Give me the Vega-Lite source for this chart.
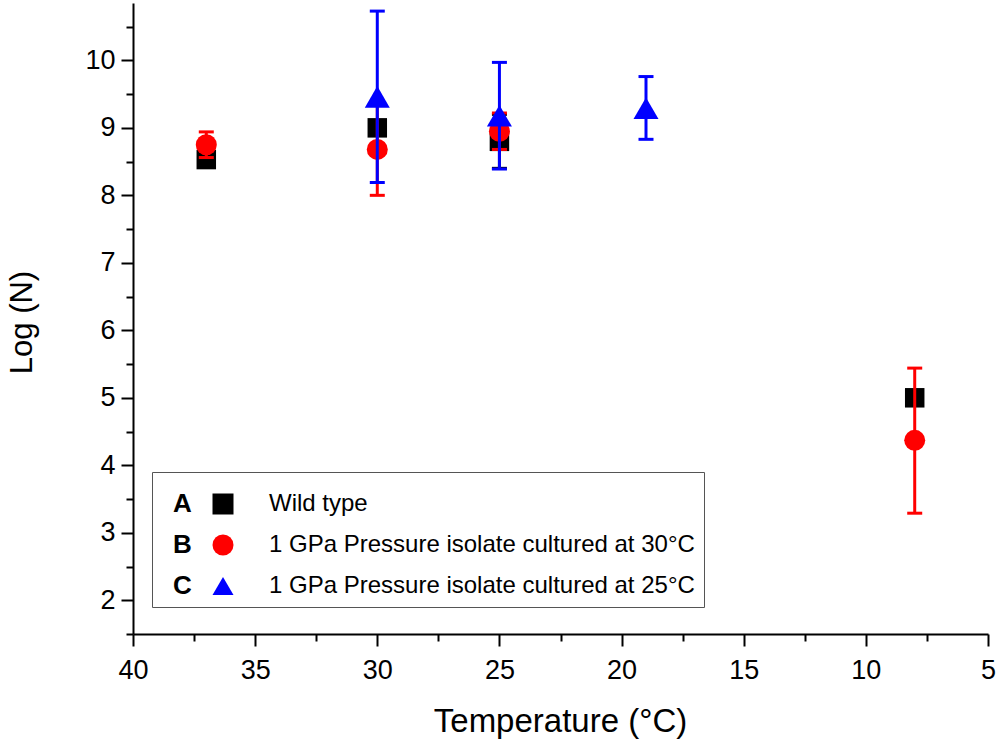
{
  "$schema": "https://vega.github.io/schema/vega-lite/v6.json",
  "width": 855,
  "height": 631,
  "autosize": {"type": "none"},
  "padding": {"left": 133, "top": 3, "right": 12, "bottom": 115},
  "background": "white",
  "config": {
    "view": {"stroke": null},
    "font": "Liberation Sans",
    "axis": {
      "domainColor": "black",
      "domainWidth": 2,
      "tickColor": "black",
      "tickWidth": 2,
      "labelColor": "black",
      "labelFont": "Liberation Sans",
      "labelFontSize": 27,
      "titleFont": "Liberation Sans",
      "titleFontWeight": "normal",
      "titleColor": "black",
      "grid": false
    }
  },
  "data": {
    "values": [
      {"series": "Wild type", "letter": "A", "temp": 37, "logn": 8.53},
      {"series": "Wild type", "letter": "A", "temp": 30, "logn": 9.0},
      {"series": "Wild type", "letter": "A", "temp": 25, "logn": 8.8, "lo": 8.4, "hi": 9.2},
      {"series": "Wild type", "letter": "A", "temp": 8, "logn": 5.0},
      {"series": "1 GPa Pressure isolate cultured at 30°C", "letter": "B", "temp": 37, "logn": 8.75, "lo": 8.56, "hi": 8.94},
      {"series": "1 GPa Pressure isolate cultured at 30°C", "letter": "B", "temp": 30, "logn": 8.68, "lo": 8.0, "hi": 9.37},
      {"series": "1 GPa Pressure isolate cultured at 30°C", "letter": "B", "temp": 25, "logn": 8.95, "lo": 8.68, "hi": 9.22},
      {"series": "1 GPa Pressure isolate cultured at 30°C", "letter": "B", "temp": 8, "logn": 4.37, "lo": 3.29, "hi": 5.44},
      {"series": "1 GPa Pressure isolate cultured at 25°C", "letter": "C", "temp": 30, "logn": 9.46, "lo": 8.19, "hi": 10.73},
      {"series": "1 GPa Pressure isolate cultured at 25°C", "letter": "C", "temp": 25, "logn": 9.18, "lo": 8.39, "hi": 9.97},
      {"series": "1 GPa Pressure isolate cultured at 25°C", "letter": "C", "temp": 19, "logn": 9.29, "lo": 8.83, "hi": 9.76}
    ]
  },
  "encoding": {
    "x": {
      "field": "temp",
      "type": "quantitative",
      "scale": {"domain": [5, 40], "reverse": true, "nice": false, "zero": false},
      "axis": {
        "title": "Temperature (°C)",
        "titleFontSize": 33,
        "values": [5, 7.5, 10, 12.5, 15, 17.5, 20, 22.5, 25, 27.5, 30, 32.5, 35, 37.5, 40],
        "labelExpr": "datum.value % 5 === 0 ? format(datum.value, 'd') : ''",
        "tickSize": {"condition": {"test": "datum.value % 5 === 0", "value": 12}, "value": 7},
        "labelPadding": 11,
        "labelFlush": false,
        "labelOverlap": false,
        "titleX": 427,
        "titleY": 97,
        "titleBaseline": "alphabetic",
        "titleAnchor": "middle"
      }
    },
    "y": {
      "field": "logn",
      "type": "quantitative",
      "scale": {"domain": [1.5, 10.85], "nice": false, "zero": false},
      "axis": {
        "title": "Log (N)",
        "titleFontSize": 31,
        "values": [1.5, 2, 2.5, 3, 3.5, 4, 4.5, 5, 5.5, 6, 6.5, 7, 7.5, 8, 8.5, 9, 9.5, 10, 10.5],
        "labelExpr": "datum.value % 1 === 0 ? format(datum.value, 'd') : ''",
        "tickSize": {"condition": {"test": "datum.value % 1 === 0", "value": 12}, "value": 7},
        "labelPadding": 6,
        "labelFlush": false,
        "labelOverlap": false,
        "titleAngle": -90,
        "titleX": -111,
        "titleY": 319,
        "titleBaseline": "middle",
        "titleAlign": "center"
      }
    }
  },
  "layer": [
    {
      "mark": {"type": "point", "opacity": 0},
      "encoding": {
        "strokeDash": {
          "field": "letter",
          "type": "nominal",
          "scale": {"domain": ["A", "B", "C"]},
          "legend": {
            "title": null,
            "orient": "none",
            "legendX": 14,
            "legendY": 488,
            "padding": 0,
            "symbolSize": 0,
            "symbolOpacity": 0,
            "symbolStrokeWidth": 0,
            "labelOffset": 0,
            "labelFontSize": 26,
            "labelFontWeight": "bold",
            "labelColor": "black",
            "labelFont": "Liberation Sans",
            "rowPadding": 15
          }
        }
      }
    },
    {
      "transform": [{"filter": "datum.letter === 'A'"}],
      "layer": [
        {
          "transform": [{"filter": "isValid(datum.lo)"}],
          "mark": {"type": "rule", "strokeWidth": 3, "color": "black"},
          "encoding": {"y": {"field": "lo", "type": "quantitative"}, "y2": {"field": "hi"}}
        },
        {
          "transform": [{"filter": "isValid(datum.lo)"}],
          "mark": {"type": "tick", "orient": "horizontal", "size": 15, "thickness": 3, "color": "black", "opacity": 1},
          "encoding": {"y": {"field": "lo", "type": "quantitative"}}
        },
        {
          "transform": [{"filter": "isValid(datum.lo)"}],
          "mark": {"type": "tick", "orient": "horizontal", "size": 15, "thickness": 3, "color": "black", "opacity": 1},
          "encoding": {"y": {"field": "hi", "type": "quantitative"}}
        },
        {
          "mark": {"type": "point", "filled": true, "opacity": 1, "strokeWidth": 0, "size": 380},
          "encoding": {
            "color": {
              "field": "series",
              "type": "nominal",
              "scale": {
                "domain": ["Wild type", "1 GPa Pressure isolate cultured at 30°C", "1 GPa Pressure isolate cultured at 25°C"],
                "range": ["#000000", "#ff0000", "#0000ff"]
              },
              "legend": {
                "title": " ",
                "titleFontSize": 6,
                "titlePadding": 5,
                "orient": "none",
                "legendX": 19,
                "legendY": 469,
                "padding": 9,
                "strokeColor": "#555555",
                "symbolOffset": 50,
                "labelOffset": 34,
                "labelFontSize": 24,
                "labelFont": "Liberation Sans",
                "labelColor": "black",
                "labelLimit": 800,
                "rowPadding": 17,
                "symbolSize": 441,
                "symbolStrokeWidth": 0,
                "symbolOpacity": 1
              }
            },
            "shape": {
              "field": "series",
              "type": "nominal",
              "scale": {
                "domain": ["Wild type", "1 GPa Pressure isolate cultured at 30°C", "1 GPa Pressure isolate cultured at 25°C"],
                "range": ["square", "circle", "triangle-up"]
              }
            }
          }
        }
      ]
    },
    {
      "transform": [{"filter": "datum.letter === 'B'"}],
      "layer": [
        {
          "transform": [{"filter": "isValid(datum.lo)"}],
          "mark": {"type": "rule", "strokeWidth": 3, "color": "#ff0000"},
          "encoding": {"y": {"field": "lo", "type": "quantitative"}, "y2": {"field": "hi"}}
        },
        {
          "transform": [{"filter": "isValid(datum.lo)"}],
          "mark": {"type": "tick", "orient": "horizontal", "size": 15, "thickness": 3, "color": "#ff0000", "opacity": 1},
          "encoding": {"y": {"field": "lo", "type": "quantitative"}}
        },
        {
          "transform": [{"filter": "isValid(datum.lo)"}],
          "mark": {"type": "tick", "orient": "horizontal", "size": 15, "thickness": 3, "color": "#ff0000", "opacity": 1},
          "encoding": {"y": {"field": "hi", "type": "quantitative"}}
        },
        {
          "mark": {"type": "point", "filled": true, "opacity": 1, "strokeWidth": 0, "size": 441},
          "encoding": {
            "color": {"field": "series", "type": "nominal"},
            "shape": {"field": "series", "type": "nominal"}
          }
        }
      ]
    },
    {
      "transform": [{"filter": "datum.letter === 'C'"}],
      "layer": [
        {
          "transform": [{"filter": "isValid(datum.lo)"}],
          "mark": {"type": "rule", "strokeWidth": 3, "color": "#0000ff"},
          "encoding": {"y": {"field": "lo", "type": "quantitative"}, "y2": {"field": "hi"}}
        },
        {
          "transform": [{"filter": "isValid(datum.lo)"}],
          "mark": {"type": "tick", "orient": "horizontal", "size": 15, "thickness": 3, "color": "#0000ff", "opacity": 1},
          "encoding": {"y": {"field": "lo", "type": "quantitative"}}
        },
        {
          "transform": [{"filter": "isValid(datum.lo)"}],
          "mark": {"type": "tick", "orient": "horizontal", "size": 15, "thickness": 3, "color": "#0000ff", "opacity": 1},
          "encoding": {"y": {"field": "hi", "type": "quantitative"}}
        },
        {
          "mark": {"type": "point", "filled": true, "opacity": 1, "strokeWidth": 0, "size": 625},
          "encoding": {
            "color": {"field": "series", "type": "nominal"},
            "shape": {"field": "series", "type": "nominal"}
          }
        }
      ]
    }
  ]
}
